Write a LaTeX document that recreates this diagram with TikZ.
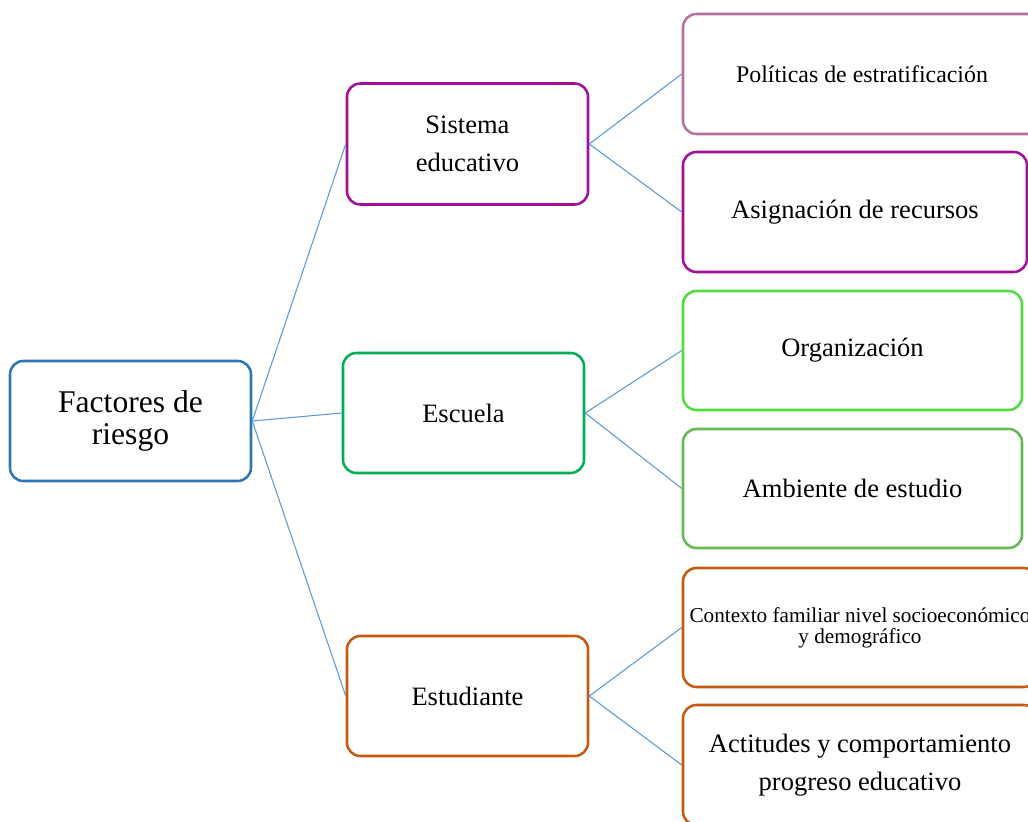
\documentclass[tikz,border=0pt]{standalone}
\usepackage{fontspec}
\setmainfont{Liberation Serif}
\newcommand\fsmain{\fontsize{19.9pt}{28pt}\selectfont}
\newcommand\fsact{\fontsize{19.9pt}{29pt}\selectfont}
\newcommand\fsroot{\fontsize{23.7pt}{23.5pt}\selectfont}
\newcommand\fspol{\fontsize{17.9pt}{20pt}\selectfont}
\newcommand\fscon{\fontsize{15.9pt}{15.5pt}\selectfont}
\definecolor{cRoot}{RGB}{46,117,182}
\definecolor{cSis}{RGB}{160,16,155}
\definecolor{cPol}{RGB}{184,112,160}
\definecolor{cEsc}{RGB}{0,176,80}
\definecolor{cOrg}{RGB}{80,220,60}
\definecolor{cAmb}{RGB}{100,185,80}
\definecolor{cEst}{RGB}{197,90,17}
\definecolor{cLine}{RGB}{91,155,213}
\tikzset{
  bx/.style={draw, rectangle, rounded corners=10pt, line width=1.9pt, fill=white,
    align=center, inner sep=0pt, font=\fsmain},
  link/.style={draw=cLine, line width=0.8pt}
}
\begin{document}
\begin{tikzpicture}[x=0.75pt,y=-0.75pt]
\useasboundingbox (0,0) rectangle (1028,821);
\clip (0,0) rectangle (1028,821);
\fill[white] (0,0) rectangle (1028,821);
% first level
\node[bx, draw=cRoot, minimum width=180.75pt, minimum height=90pt, font=\fsroot] (root) at (130.5,421) {Factores de\\riesgo};
\node[bx, draw=cSis, minimum width=180.75pt, minimum height=90.75pt] (sis) at (467.5,144) {Sistema\\educativo};
\node[bx, draw=cEsc, minimum width=180.75pt, minimum height=90pt] (esc) at (463.5,413) {Escuela};
\node[bx, draw=cEst, minimum width=180.75pt, minimum height=90pt] (est) at (467.5,696) {Estudiante};
% second level
\node[bx, draw=cPol, minimum width=268.5pt, minimum height=90pt, font=\fspol] (pol) at (862,74) {Políticas de estratificación};
\node[bx, draw=cSis, minimum width=258pt, minimum height=90pt] (asi) at (855,212) {Asignación de recursos};
\node[bx, draw=cOrg, minimum width=254.25pt, minimum height=89.25pt] (org) at (852.5,350.5) {Organización};
\node[bx, draw=cAmb, minimum width=254.25pt, minimum height=89.25pt] (amb) at (852.5,488.5) {Ambiente de estudio};
\node[bx, draw=cEst, minimum width=265.5pt, minimum height=89.25pt, font=\fscon] (con) at (860,627.5) {Contexto familiar nivel socioeconómico\\y demográfico};
\node[bx, draw=cEst, minimum width=265.5pt, minimum height=90pt, font=\fsact] (act) at (860,765) {Actitudes y comportamiento\\progreso educativo};
% connectors
\draw[link] (root.east) -- (sis.west);
\draw[link] (root.east) -- (esc.west);
\draw[link] (root.east) -- (est.west);
\draw[link] (sis.east) -- (pol.west);
\draw[link] (sis.east) -- (asi.west);
\draw[link] (esc.east) -- (org.west);
\draw[link] (esc.east) -- (amb.west);
\draw[link] (est.east) -- (con.west);
\draw[link] (est.east) -- (act.west);
\end{tikzpicture}
\end{document}
